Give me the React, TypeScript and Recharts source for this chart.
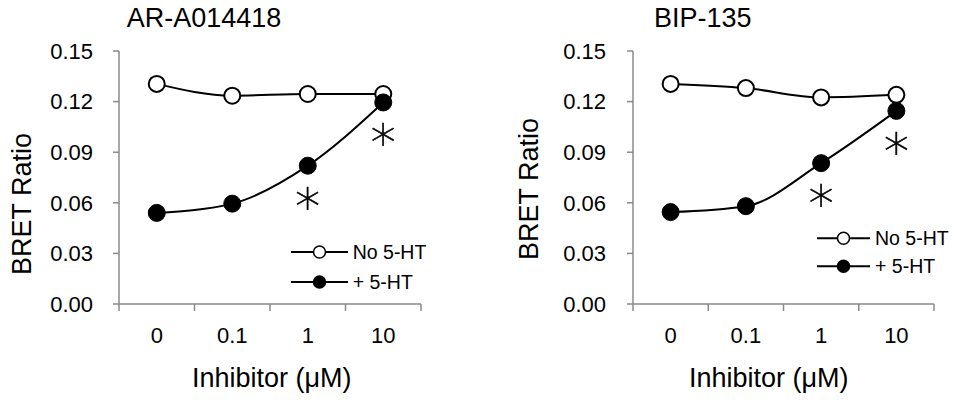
import React from 'react';
import { LineChart, Line, XAxis, YAxis, Legend, LabelList } from 'recharts';

// ---------- data ----------
const doses = ['0', '0.1', '1', '10'];
const yTicks = [0, 0.03, 0.06, 0.09, 0.12, 0.15];
const seriesNames = ['No 5-HT', '+ 5-HT'];
const titles = ['AR-A014418', 'BIP-135'];
const xTitle = 'Inhibitor (\u03BCM)';
const yTitle = 'BRET Ratio';

const arNo5HT = [0.1305, 0.1235, 0.1245, 0.1245];
const arPlus5HT = [0.054, 0.0595, 0.082, 0.1195];
const arSig = ['', '', '\u2217', '\u2217'];

const bipNo5HT = [0.1305, 0.128, 0.1225, 0.124];
const bipPlus5HT = [0.0545, 0.058, 0.0835, 0.1145];
const bipSig = ['', '', '\u2217', '\u2217'];

// ---------- styling ----------
const FONT = '"Liberation Sans", Arial, sans-serif';
const AXIS = '#8a8a8a';

const buildData = (no: number[], plus: number[], sig: string[]) =>
  doses.map((d, i) => ({ dose: d, no: no[i], plus: plus[i], sig: sig[i] }));

const panels = [
  {
    title: titles[0],
    data: buildData(arNo5HT, arPlus5HT, arSig),
    left: 0,
    yAxisW: 119,
    marginRight: 56,
    tickMargin: 20,
    titleX: 204,
    yTitleX: 31.4,
    yTitleY: 204,
    xTitleDx: 1.7,
    legendX: 290.7,
    legendY: 236.7,
    legendLineW: 57,
    legendRowH: 30,
  },
  {
    title: titles[1],
    data: buildData(bipNo5HT, bipPlus5HT, bipSig),
    left: 477,
    yAxisW: 156,
    marginRight: 20,
    tickMargin: 21,
    titleX: 702.8 - 477,
    yTitleX: 61.4,
    yTitleY: 189,
    xTitleDx: -14.8,
    legendX: 340,
    legendY: 224,
    legendLineW: 53,
    legendRowH: 28.4,
  },
];

const CHART_W = 477;
const CHART_H = 400;
const TOP = 51;
const X_AXIS_H = 96;

const XTick = (props: any) => {
  const { x, y, payload, index, half, count } = props;
  return (
    <g>
      <line x1={x - half} x2={x - half} y1={y} y2={y + 7} stroke={AXIS} strokeWidth={1.5} />
      {index === count - 1 && (
        <line x1={x + half} x2={x + half} y1={y} y2={y + 7} stroke={AXIS} strokeWidth={1.5} />
      )}
      <text x={x} y={y + 39} textAnchor="middle" fontFamily={FONT} fontSize={22} fill="#000">
        {payload.value}
      </text>
    </g>
  );
};

const SigLabel = (props: any) => {
  const { x, y, value } = props;
  if (!value) return null;
  return (
    <text
      x={x}
      y={y + 48}
      textAnchor="middle"
      fontFamily='"DejaVu Sans", sans-serif'
      fontWeight={200}
      fontSize={50}
      fill="#000"
      stroke="#000"
      strokeWidth={0.6}
    >
      {value}
    </text>
  );
};

const LegendBox = ({ payload, cfg }: any) => {
  const items = [...(payload || [])].sort(
    (a: any, b: any) => seriesNames.indexOf(a.value) - seriesNames.indexOf(b.value)
  );
  return (
    <div style={{ fontFamily: FONT, fontSize: 19.5, color: '#000' }}>
      {items.map((entry: any, i: number) => {
        const filled = entry.value === seriesNames[1];
        const h = cfg.legendRowH;
        const w = cfg.legendLineW;
        return (
          <div key={i} style={{ display: 'flex', alignItems: 'center', height: h }}>
            <svg width={w} height={h} style={{ display: 'block' }}>
              <line x1={0} x2={w} y1={h / 2} y2={h / 2} stroke="#000" strokeWidth={2} />
              <circle cx={w / 2} cy={h / 2} r={6} fill={filled ? '#000' : '#fff'} stroke="#000" strokeWidth={1.5} />
            </svg>
            <span style={{ marginLeft: 5, whiteSpace: 'nowrap', lineHeight: `${h}px` }}>{entry.value}</span>
          </div>
        );
      })}
    </div>
  );
};

const Panel = ({ cfg }: any) => {
  const plotW = CHART_W - cfg.yAxisW - cfg.marginRight;
  const half = plotW / (2 * doses.length);
  return (
    <div style={{ position: 'absolute', left: cfg.left, top: 0, width: CHART_W, height: CHART_H }}>
      <div
        style={{
          position: 'absolute',
          left: cfg.titleX - 150,
          top: 4.6,
          width: 300,
          textAlign: 'center',
          fontFamily: FONT,
          fontSize: 27,
          lineHeight: '27px',
          color: '#000',
          whiteSpace: 'nowrap',
        }}
      >
        {cfg.title}
      </div>
      <LineChart
        width={CHART_W}
        height={CHART_H}
        data={cfg.data}
        margin={{ top: TOP, right: cfg.marginRight, bottom: 0, left: 0 }}
      >
        <XAxis
          dataKey="dose"
          type="category"
          height={X_AXIS_H}
          padding={{ left: half, right: half }}
          axisLine={{ stroke: AXIS, strokeWidth: 1.5 }}
          tickLine={false}
          tickSize={0}
          tickMargin={0}
          interval={0}
          tick={(p: any) => <XTick {...p} half={half} count={doses.length} />}
          label={(p: any) => {
            const vb = p.viewBox || {};
            return (
              <text
                x={vb.x + vb.width / 2 + cfg.xTitleDx}
                y={vb.y + 83}
                textAnchor="middle"
                fontFamily={FONT}
                fontSize={27}
                fill="#000"
              >
                {xTitle}
              </text>
            );
          }}
        />
        <YAxis
          width={cfg.yAxisW}
          domain={[0, 0.15]}
          ticks={yTicks}
          interval={0}
          tickFormatter={(v: number) => v.toFixed(2)}
          axisLine={{ stroke: AXIS, strokeWidth: 1.5 }}
          tickLine={{ stroke: AXIS, strokeWidth: 1.5 }}
          tickSize={6}
          tickMargin={cfg.tickMargin}
          tick={{ fontFamily: FONT, fontSize: 22, fill: '#000' }}
          label={() => (
            <text
              x={cfg.yTitleX}
              y={cfg.yTitleY}
              transform={`rotate(-90, ${cfg.yTitleX}, ${cfg.yTitleY})`}
              textAnchor="middle"
              fontFamily={FONT}
              fontSize={27}
              fill="#000"
            >
              {yTitle}
            </text>
          )}
        />
        <Legend
          layout="horizontal"
          verticalAlign="middle"
          align="center"
          wrapperStyle={{ left: cfg.legendX, top: cfg.legendY, width: 170, height: 'auto' }}
          content={(p: any) => <LegendBox payload={p.payload} cfg={cfg} />}
        />
        <Line
          dataKey="no"
          name={seriesNames[0]}
          type="monotone"
          stroke="#000"
          strokeWidth={2}
          dot={{ r: 8, fill: '#fff', stroke: '#000', strokeWidth: 2 }}
          activeDot={false}
          isAnimationActive={false}
        />
        <Line
          dataKey="plus"
          name={seriesNames[1]}
          type="monotone"
          stroke="#000"
          strokeWidth={2}
          dot={{ r: 8.5, fill: '#000', stroke: '#000', strokeWidth: 1 }}
          activeDot={false}
          isAnimationActive={false}
        >
          <LabelList dataKey="sig" content={SigLabel} />
        </Line>
      </LineChart>
    </div>
  );
};

export default function App() {
  return (
    <div
      style={{
        position: 'absolute',
        left: 0,
        top: 0,
        width: 954,
        height: 400,
        background: '#fff',
        overflow: 'hidden',
      }}
    >
      {panels.map((cfg, i) => (
        <Panel key={i} cfg={cfg} />
      ))}
    </div>
  );
}
